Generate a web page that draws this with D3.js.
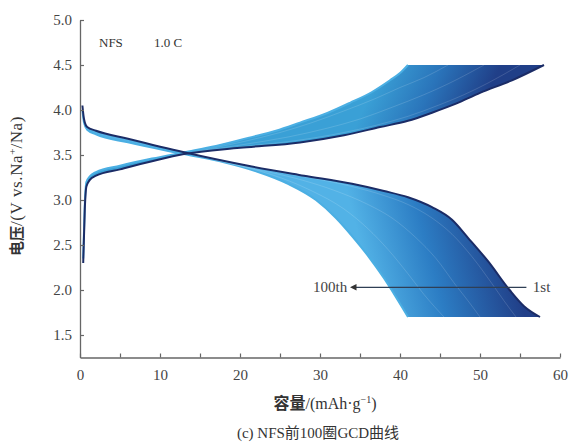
<!DOCTYPE html>
<html>
<head>
<meta charset="utf-8">
<script src="https://cdn.jsdelivr.net/npm/d3@7"></script>
<style>
  body { margin: 0; background: #fff; }
  svg { display: block; }
</style>
</head>
<body>
<svg id="chart" width="569" height="447"></svg>
<script>
// key cycles, points are [capacity (mAh/g), voltage (V)]
const cycles = [100, 50, 20, 5, 1];
const dischargeHead1 = [[0.3, 4.05], [0.5, 3.9], [0.9, 3.81], [2, 3.77], [6, 3.68], [13, 3.53]];
const dischargeHead100 = [[0.3, 4.0], [0.5, 3.86], [0.9, 3.78], [2, 3.73], [6, 3.64], [13, 3.51]];
const chargeHead1 = [[0.4, 2.3], [0.6, 2.9], [0.8, 3.15], [1.2, 3.22], [2, 3.27], [5, 3.34], [9, 3.43], [13, 3.51]];
const chargeHead100 = [[0.4, 2.35], [0.6, 2.95], [0.8, 3.2], [1.2, 3.26], [2, 3.31], [5, 3.38], [9, 3.46], [13, 3.53]];

const dischargeTails = [
  [[18, 3.42], [22, 3.32], [26, 3.18], [29.5, 3.0], [32, 2.8], [34, 2.6], [36, 2.38], [38, 2.13], [39.5, 1.92], [41, 1.7]],
  [[20, 3.38], [25, 3.25], [29, 3.1], [33, 2.9], [36, 2.68], [38.5, 2.45], [41, 2.18], [43, 1.95], [45.5, 1.7]],
  [[21, 3.36], [27, 3.24], [32, 3.1], [36, 2.95], [39, 2.8], [42, 2.58], [44.5, 2.35], [47, 2.05], [48.5, 1.88], [50, 1.7]],
  [[21, 3.37], [28, 3.26], [34, 3.15], [38, 3.05], [41, 2.95], [44, 2.8], [46.5, 2.62], [49, 2.37], [51.5, 2.07], [53, 1.88], [54.5, 1.7]],
  [[21, 3.38], [28, 3.27], [34, 3.18], [38, 3.1], [41, 3.03], [44, 2.92], [46.5, 2.78], [48.5, 2.58], [51, 2.32], [53.7, 2.0], [55.5, 1.82], [57.5, 1.7]]
];
const chargeTails = [
  [[17, 3.6], [21, 3.69], [24.5, 3.77], [27.5, 3.86], [31, 3.97], [33.75, 4.08], [36.5, 4.2], [38.75, 4.33], [40, 4.41], [41, 4.5]],
  [[20, 3.64], [25, 3.75], [29, 3.86], [33, 3.99], [37, 4.13], [40, 4.25], [43, 4.36], [46, 4.5]],
  [[20, 3.61], [26, 3.7], [31, 3.8], [35, 3.9], [39, 4.03], [43, 4.17], [46, 4.29], [50.5, 4.5]],
  [[20, 3.59], [27, 3.66], [33, 3.75], [37, 3.83], [41, 3.93], [45, 4.06], [48, 4.17], [51, 4.3], [55, 4.5]],
  [[20, 3.58], [27.5, 3.64], [33, 3.72], [37.5, 3.81], [41, 3.88], [44, 3.97], [47, 4.07], [50, 4.19], [54, 4.33], [58, 4.5]]
];

const xTicks = d3.range(0, 61, 5);
const yTicks = [1.5, 2.0, 2.5, 3.0, 3.5, 4.0, 4.5, 5.0];

const svg = d3.select("#chart");
const serif = "'Liberation Serif', 'DejaVu Serif', serif";
const cjk = "'Noto Sans CJK SC', sans-serif";

const x = d3.scaleLinear().domain([0, 60]).range([80, 560]);
const y = d3.scaleLinear().domain([1.25, 5]).range([357.5, 20]);

const color = d3.scaleLinear().domain([1, 100]).range(["#1b2c66", "#4bafe3"]).interpolate(d3.interpolateRgb);

const line = d3.line().x(d => x(d[0])).y(d => y(d[1])).curve(d3.curveMonotoneX);

const discharge = dischargeTails.map((t, i) => (i === 0 ? dischargeHead100 : dischargeHead1).concat(t));
const charge = chargeTails.map((t, i) => (i === 0 ? chargeHead100 : chargeHead1).concat(t));

// filled bands between 100th and 1st cycle
const defs = svg.append("defs");
let g1 = defs.append("linearGradient").attr("id", "gd").attr("gradientUnits", "userSpaceOnUse")
  .attr("x1", x(36)).attr("y1", y(2.2)).attr("x2", x(53)).attr("y2", y(2.6));
g1.append("stop").attr("offset", 0).attr("stop-color", "#52b2e6");
g1.append("stop").attr("offset", 0.45).attr("stop-color", "#2c7dc4");
g1.append("stop").attr("offset", 1).attr("stop-color", "#213f88");
let g2 = defs.append("linearGradient").attr("id", "gc").attr("gradientUnits", "userSpaceOnUse")
  .attr("x1", x(38)).attr("y1", y(4.5)).attr("x2", x(50)).attr("y2", y(4.0));
g2.append("stop").attr("offset", 0).attr("stop-color", "#3aa0d6");
g2.append("stop").attr("offset", 0.5).attr("stop-color", "#2a74ba");
g2.append("stop").attr("offset", 1).attr("stop-color", "#203f88");

const band = (a, b) => line(a) + line(b.slice().reverse()).replace("M", "L") + "Z";
svg.append("path").attr("d", band(discharge[4], discharge[0])).attr("fill", "url(#gd)");
svg.append("path").attr("d", band(charge[4], charge[0])).attr("fill", "url(#gc)");

const curves = svg.append("g").attr("fill", "none").attr("stroke-linejoin", "round");
cycles.forEach((c, i) => {
  const inner = c !== 1 && c !== 100;
  [discharge[i], charge[i]].forEach(pts => {
    curves.append("path").attr("d", line(pts))
      .attr("stroke", inner ? "#ffffff" : color(c))
      .attr("stroke-opacity", inner ? 0.18 : 1)
      .attr("stroke-width", inner ? 0.8 : (c === 1 ? 2 : 2));
  });
});

// axes
const xAxis = d3.axisBottom(x).tickValues(xTicks).tickSizeInner(-4).tickSizeOuter(0).tickPadding(12)
  .tickFormat(d => d % 10 === 0 ? d : "");
const yAxis = d3.axisLeft(y).tickValues(yTicks).tickSizeInner(-4).tickSizeOuter(0).tickPadding(8)
  .tickFormat(d3.format(".1f"));

const gx = svg.append("g").attr("transform", "translate(0," + y(1.25) + ")").call(xAxis);
const gy = svg.append("g").attr("transform", "translate(" + x(0) + ",0)").call(yAxis);
[gx, gy].forEach(g => {
  g.select(".domain").attr("stroke", "#666").attr("stroke-width", 1.3);
  g.selectAll(".tick line").attr("stroke", "#666").attr("stroke-width", 1.2);
  g.selectAll(".tick text").attr("fill", "#444").style("font-family", serif).style("font-size", "15px");
});

// annotations
svg.append("text").attr("x", 99).attr("y", 47).text("NFS")
  .style("font-family", serif).style("font-size", "13px").attr("fill", "#333");
svg.append("text").attr("x", 154).attr("y", 47).text("1.0 C")
  .style("font-family", serif).style("font-size", "13px").attr("fill", "#333");

defs.append("marker").attr("id", "arrow").attr("viewBox", "0 0 10 10").attr("refX", 2).attr("refY", 5)
  .attr("markerWidth", 6).attr("markerHeight", 5).attr("orient", "auto-start-reverse")
  .append("path").attr("d", "M0,0L10,5L0,10Z").attr("fill", "#333");
svg.append("line").attr("x1", x(55.8)).attr("x2", x(34.4)).attr("y1", y(2.03)).attr("y2", y(2.03))
  .attr("stroke", "#2f3f55").attr("stroke-width", 1.3).attr("marker-end", "url(#arrow)");
svg.append("text").attr("x", x(33.4)).attr("y", y(2.03) + 5).attr("text-anchor", "end").text("100th")
  .style("font-family", serif).style("font-size", "15px").attr("fill", "#444");
svg.append("text").attr("x", x(56.6)).attr("y", y(2.03) + 5).text("1st")
  .style("font-family", serif).style("font-size", "15px").attr("fill", "#444");

// axis titles
const xt = svg.append("text").attr("x", 325).attr("y", 409).attr("text-anchor", "middle").attr("fill", "#333")
  .style("font-size", "16px");
xt.append("tspan").style("font-family", cjk).style("font-weight", "bold").text("容量");
xt.append("tspan").style("font-family", serif).text("/(mAh·g");
xt.append("tspan").style("font-family", serif).style("font-size", "10px").attr("dy", -6).text("−1");
xt.append("tspan").style("font-family", serif).attr("dy", 6).text(")");

const yt = svg.append("text").attr("transform", "translate(22,186) rotate(-90)").attr("text-anchor", "middle")
  .attr("fill", "#333").style("font-size", "17px");
yt.append("tspan").style("font-family", cjk).style("font-weight", "bold").style("font-size", "15px").text("电压");
yt.append("tspan").style("font-family", serif).style("letter-spacing", "0.6px").text("/(V vs.Na");
yt.append("tspan").style("font-family", serif).style("font-size", "11px").attr("dy", -6).text("+");
yt.append("tspan").style("font-family", serif).style("letter-spacing", "0.6px").attr("dy", 6).text("/Na)");

const cap = svg.append("text").attr("x", 318).attr("y", 438).attr("text-anchor", "middle")
  .attr("fill", "#333").style("font-size", "15px");
cap.append("tspan").style("font-family", serif).text("(c) NFS");
cap.append("tspan").style("font-family", cjk).text("前");
cap.append("tspan").style("font-family", serif).text("100");
cap.append("tspan").style("font-family", cjk).text("圈");
cap.append("tspan").style("font-family", serif).text("GCD");
cap.append("tspan").style("font-family", cjk).text("曲线");
</script>
</body>
</html>
